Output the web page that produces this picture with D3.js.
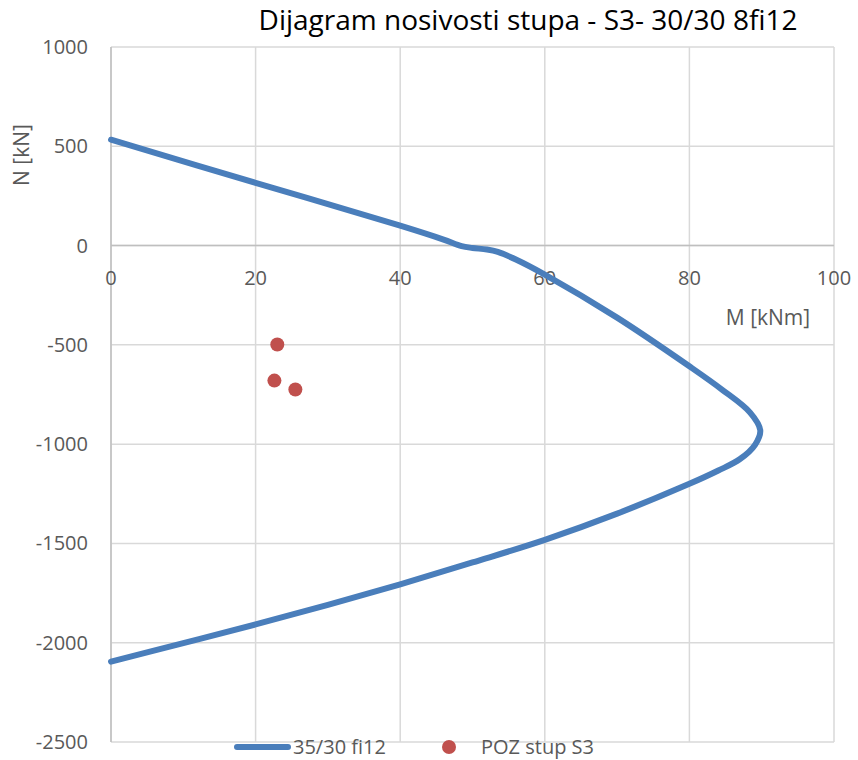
<!DOCTYPE html>
<html>
<head>
<meta charset="utf-8">
<script src="https://cdn.jsdelivr.net/npm/d3@7"></script>
<style>
  body { margin: 0; background: #fff; }
  text { font-family: "Liberation Sans Narrow", "Open Sans", sans-serif; fill: #595959; }
</style>
</head>
<body>
<div id="chart"></div>
<script>
var chartTitle = 'Dijagram nosivosti stupa - S3- 30/30 8fi12';
var xTicks = [0, 20, 40, 60, 80, 100];
var yTicks = [1000, 500, 0, -500, -1000, -1500, -2000, -2500];

// interaction curve, M [kNm] / N [kN]
var curveM = [0, 20, 40, 46, 48.5, 50, 52, 53.5, 56, 60, 70, 80, 84.5, 88.4, 89.8, 89.1, 87, 84, 80, 70, 60, 50, 40, 30, 20, 10, 0];
var curveN = [533, 316, 100, 30, -3, -12, -20, -32, -70, -146, -363, -608, -725, -841, -930, -1002, -1075, -1133, -1200, -1350, -1482, -1596, -1706, -1810, -1908, -2002, -2095];

// load points POZ stup S3
var pointM = [23.0, 22.6, 25.5];
var pointN = [-498, -680, -725];

var width = 858, height = 760;
var margin = {left: 111, right: 24, top: 47, bottom: 18};

var svg = d3.select('#chart').append('svg')
    .attr('width', width)
    .attr('height', height);

var x = d3.scaleLinear().domain([0, 100]).range([margin.left, width - margin.right]);
var y = d3.scaleLinear().domain([-2500, 1000]).range([height - margin.bottom, margin.top]);

// grid
svg.append('g').selectAll('line.v')
    .data(xTicks)
    .enter().append('line')
    .attr('x1', d => x(d)).attr('x2', d => x(d))
    .attr('y1', y(1000)).attr('y2', y(-2500))
    .attr('stroke', '#d9d9d9').attr('stroke-width', 1.5);

svg.append('g').selectAll('line.h')
    .data(yTicks)
    .enter().append('line')
    .attr('x1', x(0)).attr('x2', x(100))
    .attr('y1', d => y(d)).attr('y2', d => y(d))
    .attr('stroke', '#d9d9d9').attr('stroke-width', 1.5);

// axis lines
svg.append('line')
    .attr('x1', x(0)).attr('x2', x(100))
    .attr('y1', y(0)).attr('y2', y(0))
    .attr('stroke', '#bfbfbf').attr('stroke-width', 1.5);
svg.append('line')
    .attr('x1', x(0)).attr('x2', x(0))
    .attr('y1', y(1000)).attr('y2', y(-2500))
    .attr('stroke', '#bfbfbf').attr('stroke-width', 1.5);

// tick labels
svg.append('g').selectAll('text')
    .data(yTicks)
    .enter().append('text')
    .attr('x', x(0) - 23)
    .attr('y', d => y(d) + 7)
    .attr('text-anchor', 'end')
    .style('font-size', '20px')
    .text(d => d);

svg.append('g').selectAll('text')
    .data(xTicks)
    .enter().append('text')
    .attr('x', d => x(d))
    .attr('y', y(0) + 39)
    .attr('text-anchor', 'middle')
    .style('font-size', '20px')
    .text(d => d);

// axis titles
svg.append('text')
    .attr('x', 768).attr('y', 325)
    .attr('text-anchor', 'middle')
    .style('font-size', '21px')
    .text('M [kNm]');

svg.append('text')
    .attr('transform', 'translate(29,155) rotate(-90)')
    .attr('text-anchor', 'middle')
    .style('font-size', '21px')
    .text('N [kN]');

// title
svg.append('text')
    .attr('x', 528).attr('y', 30)
    .attr('text-anchor', 'middle')
    .style('font-size', '28px')
    .style('fill', '#000')
    .text(chartTitle);

// curve
var line = d3.line()
    .x(d => x(d[0]))
    .y(d => y(d[1]))
    .curve(d3.curveCatmullRom.alpha(0.5));

svg.append('path')
    .datum(d3.zip(curveM, curveN))
    .attr('d', line)
    .attr('fill', 'none')
    .attr('stroke', '#4a7ebb')
    .attr('stroke-width', 6)
    .attr('stroke-linecap', 'round');

// points
svg.append('g').selectAll('circle')
    .data(d3.zip(pointM, pointN))
    .enter().append('circle')
    .attr('cx', d => x(d[0]))
    .attr('cy', d => y(d[1]))
    .attr('r', 7)
    .attr('fill', '#c0504d');

// legend
var lg = svg.append('g');
lg.append('line')
    .attr('x1', 237).attr('x2', 288)
    .attr('y1', 747).attr('y2', 747)
    .attr('stroke', '#4a7ebb').attr('stroke-width', 6)
    .attr('stroke-linecap', 'round');
lg.append('text')
    .attr('x', 293).attr('y', 754)
    .style('font-size', '20px')
    .text('35/30 fi12');
lg.append('circle')
    .attr('cx', 449).attr('cy', 747)
    .attr('r', 7)
    .attr('fill', '#c0504d');
lg.append('text')
    .attr('x', 481).attr('y', 754)
    .style('font-size', '20px')
    .text('POZ stup S3');
</script>
</body>
</html>
